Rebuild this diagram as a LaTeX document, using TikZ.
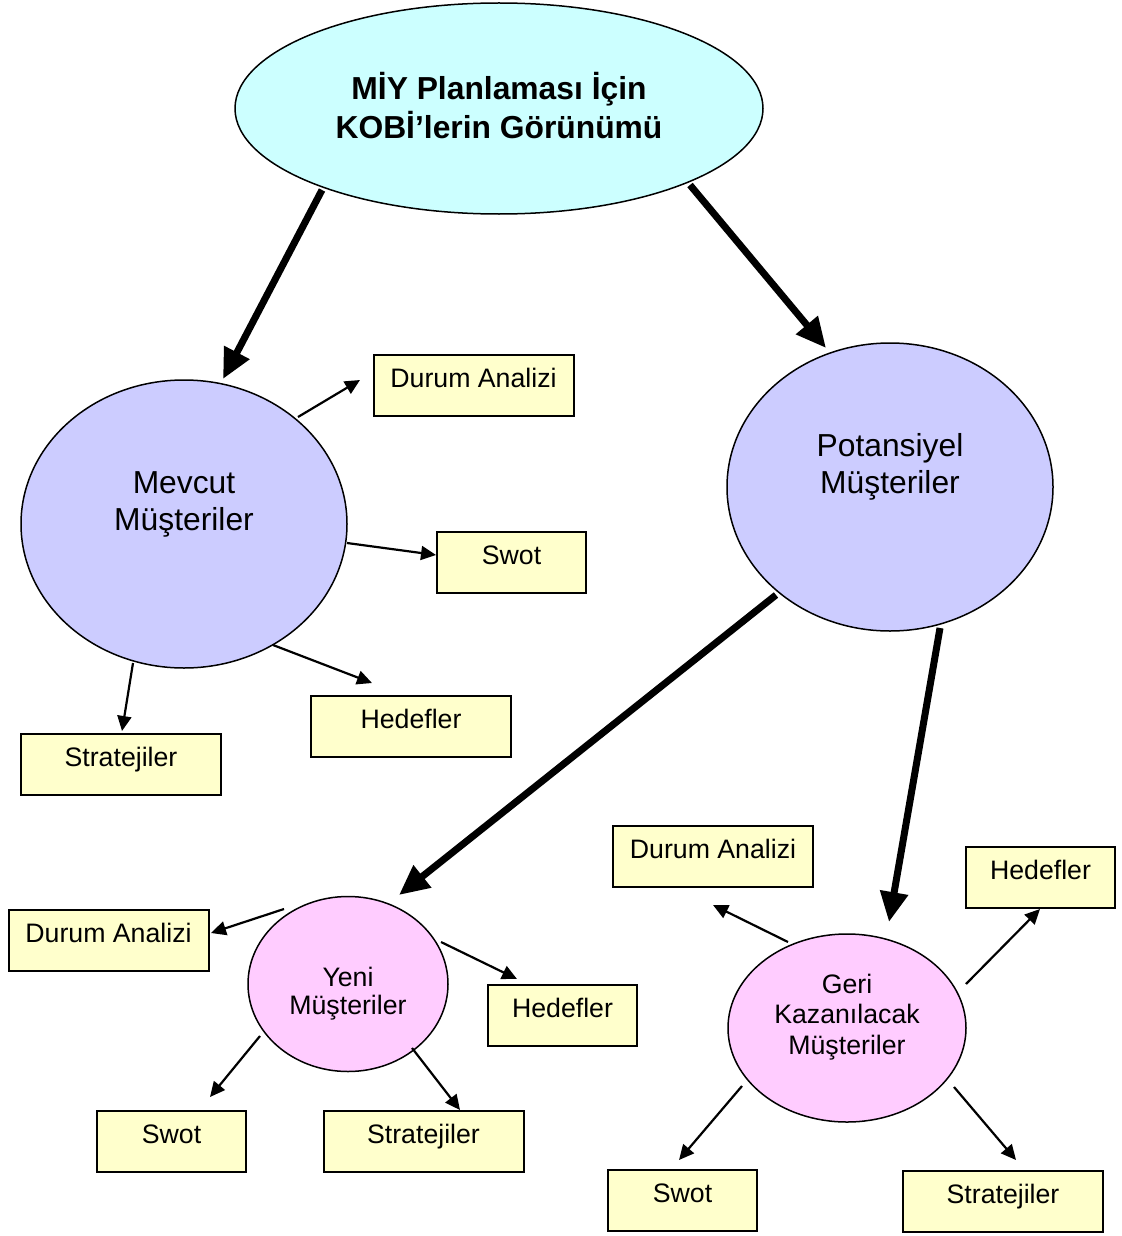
\documentclass[tikz,border=0pt]{standalone}
\usepackage{fontspec}
\setmainfont{Liberation Sans}
\usetikzlibrary{shapes.geometric,arrows.meta}
\definecolor{topfill}{HTML}{CCFFFF}
\definecolor{bluefill}{HTML}{CCCCFF}
\definecolor{pinkfill}{HTML}{FFCCFF}
\definecolor{boxfill}{HTML}{FFFFCC}
\begin{document}
\begin{tikzpicture}[x=1pt,y=-1pt,
  ell/.style={ellipse,draw,line width=1.5pt,inner sep=0pt},
  bx/.style={rectangle,draw,line width=2pt,fill=boxfill,minimum height=61pt,
    text height=19pt,text depth=15pt,inner sep=0pt,font=\fontsize{26.7}{30}\selectfont},
  bw/.style={bx,minimum width=200pt},
  bn/.style={bx,minimum width=149pt},
  ttl/.style={inner sep=0pt,text height=22.6pt,text depth=0pt,font=\bfseries\fontsize{31.8}{37}\selectfont},
  big/.style={inner sep=0pt,text height=22.6pt,text depth=0pt,font=\fontsize{31.8}{37}\selectfont},
  small/.style={inner sep=0pt,text height=19pt,text depth=0pt,font=\fontsize{26.7}{30}\selectfont},
  thick/.style={line width=7pt,-{Triangle[length=30pt,width=27pt]}},
  thin/.style={line width=2.2pt,-{Triangle[length=15pt,width=14pt]}}
]
\useasboundingbox (0,0) rectangle (1121,1236);

% ellipses
\node[ell,fill=topfill,minimum width=528pt,minimum height=211pt] (top) at (499,108.5) {};
\node[ell,fill=bluefill,minimum width=326pt,minimum height=288pt] (mev) at (184,524) {};
\node[ell,fill=bluefill,minimum width=326pt,minimum height=288pt] (pot) at (890,487) {};
\node[ell,fill=pinkfill,minimum width=200pt,minimum height=175pt] (yeni) at (348,984) {};
\node[ell,fill=pinkfill,minimum width=238pt,minimum height=188pt] (geri) at (847,1028) {};

% ellipse texts
\node[ttl] (topA) at (499,88) {MİY Planlaması İçin};
\node[ttl] (topB) at (499,127) {KOBİ’lerin Görünümü};
\node[big] (mevA) at (184,482) {Mevcut};
\node[big] (mevB) at (184,519) {Müşteriler};
\node[big] (potA) at (890,445) {Potansiyel};
\node[big] (potB) at (890,482) {Müşteriler};
\node[small] (yeniA) at (348,977) {Yeni};
\node[small] (yeniB) at (348,1005) {Müşteriler};
\node[small] (geriA) at (847,984) {Geri};
\node[small] (geriB) at (847,1014) {Kazanılacak};
\node[small] (geriC) at (847,1045) {Müşteriler};

% boxes
\node[bw] (da1) at (473.5,385.5) {Durum Analizi};
\node[bn] (sw1) at (511.5,562.5) {Swot};
\node[bw] (he1) at (411,726.5) {Hedefler};
\node[bw] (st1) at (121,764) {Stratejiler};
\node[bw] (da2) at (108.5,940) {Durum Analizi};
\node[bn] (he2) at (562.5,1015.5) {Hedefler};
\node[bn] (sw2) at (171.5,1141.5) {Swot};
\node[bw] (st2) at (423.5,1141.5) {Stratejiler};
\node[bw] (da3) at (713,856.5) {Durum Analizi};
\node[bn] (he3) at (1040.5,877) {Hedefler};
\node[bn] (sw3) at (682.5,1200.5) {Swot};
\node[bw] (st3) at (1003,1201) {Stratejiler};

% connector end points
\coordinate (a1s) at (322,190);   \coordinate (a1e) at (223,379);
\coordinate (a2s) at (690,185);   \coordinate (a2e) at (826,348);
\coordinate (a3s) at (776,595);   \coordinate (a3e) at (399,895);
\coordinate (a4s) at (940,628);   \coordinate (a4e) at (889,922);

\coordinate (m1s) at (298,417);   \coordinate (m1e) at (360,380);
\coordinate (m2s) at (347,543);   \coordinate (m2e) at (436,555);
\coordinate (m3s) at (273,645);   \coordinate (m3e) at (372,683);
\coordinate (m4s) at (133,663);   \coordinate (m4e) at (122,731);

\coordinate (y1s) at (284,909);   \coordinate (y1e) at (211,933);
\coordinate (y2s) at (441,942);   \coordinate (y2e) at (517,979);
\coordinate (y3s) at (260,1036);  \coordinate (y3e) at (210,1097);
\coordinate (y4s) at (412,1048);  \coordinate (y4e) at (460,1110);

\coordinate (g1s) at (788,942);   \coordinate (g1e) at (713,905);
\coordinate (g2s) at (966,984);   \coordinate (g2e) at (1040,909);
\coordinate (g3s) at (742,1086);  \coordinate (g3e) at (679,1160);
\coordinate (g4s) at (954,1087);  \coordinate (g4e) at (1016,1160);

% thick connectors
\draw[thick] (a1s) -- (a1e);
\draw[thick] (a2s) -- (a2e);
\draw[thick] (a3s) -- (a3e);
\draw[thick] (a4s) -- (a4e);

% thin connectors
\draw[thin] (m1s) -- (m1e);
\draw[thin] (m2s) -- (m2e);
\draw[thin] (m3s) -- (m3e);
\draw[thin] (m4s) -- (m4e);
\draw[thin] (y1s) -- (y1e);
\draw[thin] (y2s) -- (y2e);
\draw[thin] (y3s) -- (y3e);
\draw[thin] (y4s) -- (y4e);
\draw[thin] (g1s) -- (g1e);
\draw[thin] (g2s) -- (g2e);
\draw[thin] (g3s) -- (g3e);
\draw[thin] (g4s) -- (g4e);
\end{tikzpicture}
\end{document}
